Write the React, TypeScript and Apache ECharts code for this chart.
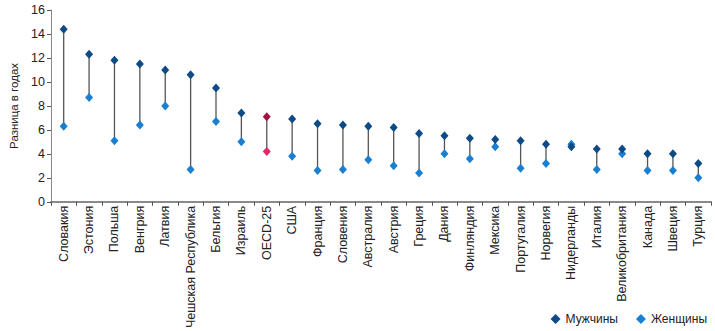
import React, { useEffect, useRef } from "react";
import * as echarts from "echarts";

const categories = [
  "Словакия", "Эстония", "Польша", "Венгрия", "Латвия", "Чешская Республика",
  "Бельгия", "Израиль", "OECD-25", "США", "Франция", "Словения", "Австралия",
  "Австрия", "Греция", "Дания", "Финляндия", "Мексика", "Португалия", "Норвегия",
  "Нидерланды", "Италия", "Великобритания", "Канада", "Швеция", "Турция",
];
const men = [14.4, 12.3, 11.8, 11.5, 11.0, 10.6, 9.5, 7.4, 7.1, 6.9, 6.5, 6.4, 6.3, 6.2, 5.7, 5.5, 5.3, 5.2, 5.1, 4.8, 4.6, 4.4, 4.4, 4.0, 4.0, 3.2];
const women = [6.3, 8.7, 5.1, 6.4, 8.0, 2.7, 6.7, 5.0, 4.2, 3.8, 2.6, 2.7, 3.5, 3.0, 2.4, 4.0, 3.6, 4.6, 2.8, 3.2, 4.8, 2.7, 4.0, 2.6, 2.6, 2.0];
const yTicks = { min: 0, max: 16, interval: 2 };
const highlight = "OECD-25";

const MEN_COLOR = "#0d4a86";
const WOMEN_COLOR = "#1b7fd1";
const HL_MEN = "#a3123f";
const HL_WOMEN = "#e0286a";

export default function App() {
  const ref = useRef<HTMLDivElement>(null);
  useEffect(() => {
    document.body.style.margin = "0";
    if (!ref.current) return;
    const chart = echarts.init(ref.current, undefined, { renderer: "svg" });
    const font = "Liberation Sans, Arial, sans-serif";
    const menData = men.map((v, i) =>
      categories[i] === highlight ? { value: v, itemStyle: { color: HL_MEN } } : v
    );
    const womenData = women.map((v, i) =>
      categories[i] === highlight ? { value: v, itemStyle: { color: HL_WOMEN } } : v
    );
    chart.setOption({
      animation: false,
      textStyle: { fontFamily: font },
      grid: { left: 41, right: 4, top: 10, bottom: 127, containLabel: false },
      legend: {
        right: 3,
        bottom: 1,
        itemWidth: 10,
        itemHeight: 10,
        itemGap: 18,
        textStyle: { fontSize: 12, color: "#222", fontFamily: font },
        data: [
          { name: "Мужчины", icon: "diamond", itemStyle: { color: MEN_COLOR } },
          { name: "Женщины", icon: "diamond", itemStyle: { color: WOMEN_COLOR } },
        ],
      },
      xAxis: {
        type: "category",
        data: categories,
        boundaryGap: true,
        axisLine: { lineStyle: { color: "#8a8a8a", width: 2 } },
        axisTick: { show: true, length: 4, lineStyle: { color: "#555" } },
        axisLabel: {
          rotate: 90,
          interval: 0,
          fontSize: 12.5,
          color: "#222",
          margin: 4,
          fontFamily: font,
        },
      },
      yAxis: {
        type: "value",
        min: yTicks.min,
        max: yTicks.max,
        interval: yTicks.interval,
        name: "Разница в годах",
        nameLocation: "middle",
        nameRotate: 90,
        nameGap: 31,
        nameTextStyle: { fontSize: 11.5, color: "#222", fontFamily: font },
        axisLine: { show: true, lineStyle: { color: "#8a8a8a", width: 1 } },
        axisTick: { show: true, length: 4, inside: false, lineStyle: { color: "#555" } },
        axisLabel: { fontSize: 12.5, color: "#222", margin: 6, fontFamily: font },
        splitLine: { show: false },
      },
      series: [
        {
          type: "custom",
          name: "connector",
          silent: true,
          z: 1,
          data: categories.map((_, i) => [i, men[i], women[i]]),
          encode: { x: 0, y: [1, 2] },
          renderItem: (params: any, api: any) => {
            const i = api.value(0);
            const p1 = api.coord([i, api.value(1)]);
            const p2 = api.coord([i, api.value(2)]);
            return {
              type: "line",
              shape: { x1: p1[0], y1: p1[1], x2: p2[0], y2: p2[1] },
              style: { stroke: "#555", lineWidth: 1.3 },
            };
          },
        },
        {
          type: "scatter",
          name: "Мужчины",
          symbol: "diamond",
          symbolSize: [8, 9],
          z: 3,
          itemStyle: { color: MEN_COLOR, opacity: 1 },
          data: menData,
        },
        {
          type: "scatter",
          name: "Женщины",
          symbol: "diamond",
          symbolSize: [8, 9],
          z: 2,
          itemStyle: { color: WOMEN_COLOR, opacity: 1 },
          data: womenData,
        },
      ],
    });
    return () => chart.dispose();
  }, []);
  return <div ref={ref} style={{ width: 715, height: 331 }} />;
}
